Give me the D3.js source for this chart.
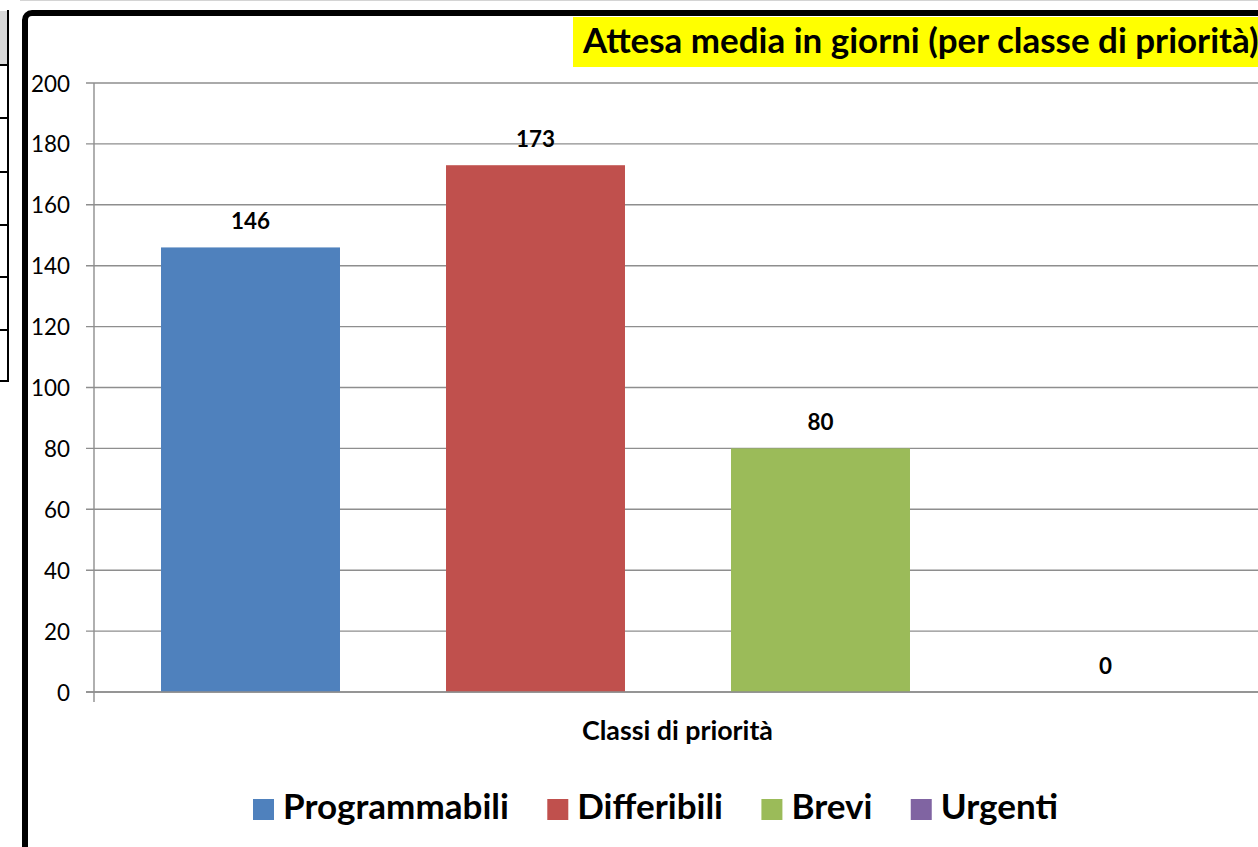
<!DOCTYPE html>
<html><head><meta charset="utf-8">
<script src="https://cdn.jsdelivr.net/npm/d3@7"></script>
<style>html,body{margin:0;padding:0;background:#fff;overflow:hidden}svg{display:block}</style>
</head><body>
<svg id="c" width="1258" height="847"></svg>
<script>
const categories = ["Programmabili", "Differibili", "Brevi", "Urgenti"];
const values = [146, 173, 80, 0];
const colors = ["#4f81bd", "#c0504d", "#9bbb59", "#8064a2"];
const yTicks = [0, 20, 40, 60, 80, 100, 120, 140, 160, 180, 200];
const title = "Attesa media in giorni (per classe di priorità)";
const xTitle = "Classi di priorità";

const FONT = "Lato, 'Open Sans', sans-serif";
const svg = d3.select("#c");

function fit(sel, target) {
  const w = sel.node().getComputedTextLength();
  const s = parseFloat(sel.attr("font-size"));
  sel.attr("font-size", s * target / w);
  return s * target / w;
}

// faint top line
svg.append("line").attr("x1", 20).attr("x2", 1258).attr("y1", 0.5).attr("y2", 0.5)
  .attr("stroke", "#d4d4d4").attr("stroke-width", 1);

// left table fragment
const tbl = svg.append("g");
tbl.append("rect").attr("x", 0).attr("y", 11).attr("width", 7).attr("height", 53).attr("fill", "#d9d9d9");
[65, 118, 172, 225, 277, 330, 381].forEach(yy => {
  tbl.append("line").attr("x1", 0).attr("x2", 9).attr("y1", yy).attr("y2", yy).attr("stroke", "#000").attr("stroke-width", 2);
});
tbl.append("line").attr("x1", 8).attr("x2", 8).attr("y1", 10).attr("y2", 382).attr("stroke", "#000").attr("stroke-width", 2);

// chart frame
svg.append("rect").attr("x", 25).attr("y", 13).attr("width", 1400).attr("height", 1000)
  .attr("rx", 7).attr("fill", "#fff").attr("stroke", "#000").attr("stroke-width", 6);

// scales
const y = d3.scaleLinear().domain([0, 200]).range([692, 83]);
const x = d3.scaleBand().domain(categories).range([108, 1248]).paddingInner(0.372).paddingOuter(0.186);

// gridlines
svg.append("g").selectAll("line").data(yTicks).join("line")
  .attr("x1", 86).attr("x2", 1258)
  .attr("y1", d => y(d)).attr("y2", d => y(d))
  .attr("stroke", "#8e8e8e").attr("stroke-width", 1.4);

// y axis line
svg.append("line").attr("x1", 94).attr("x2", 94).attr("y1", y(200)).attr("y2", 702)
  .attr("stroke", "#8e8e8e").attr("stroke-width", 1.4);

// tick labels
const tl = svg.append("g").selectAll("text").data(yTicks).join("text")
  .attr("x", 70).attr("y", d => y(d) + 8.5)
  .attr("text-anchor", "end").attr("font-family", FONT).attr("font-size", 22)
  .attr("fill", "#000").text(d => d);
{
  const n = tl.filter(d => d === 200);
  const s = fit(n, 39);
  tl.attr("font-size", s);
}

// bars
svg.append("g").selectAll("rect").data(categories).join("rect")
  .attr("x", d => x(d)).attr("width", x.bandwidth())
  .attr("y", (d, i) => y(values[i])).attr("height", (d, i) => y(0) - y(values[i]))
  .attr("fill", (d, i) => colors[i]);

// zero line above bars
svg.append("line").attr("x1", 86).attr("x2", 1258).attr("y1", y(0)).attr("y2", y(0))
  .attr("stroke", "#8e8e8e").attr("stroke-width", 1.6);

// value labels
const vl = svg.append("g").selectAll("text").data(categories).join("text")
  .attr("x", d => x(d) + x.bandwidth() / 2)
  .attr("y", (d, i) => y(values[i]) - 18.5)
  .attr("text-anchor", "middle").attr("font-family", FONT).attr("font-weight", "bold")
  .attr("font-size", 22).attr("fill", "#000").text((d, i) => values[i]);
{
  const n = vl.filter((d, i) => i === 0);
  const s = fit(n, 39);
  vl.attr("font-size", s);
}

// x axis title
const xt = svg.append("text").attr("x", 582).attr("y", 740)
  .attr("font-family", FONT).attr("font-weight", "bold").attr("font-size", 22)
  .attr("fill", "#000").text(xTitle);
fit(xt, 191);

// title
svg.append("rect").attr("x", 573).attr("y", 17).attr("width", 700).attr("height", 50).attr("fill", "#ffff00");
const tt = svg.append("text").attr("x", 583).attr("y", 53)
  .attr("font-family", FONT).attr("font-weight", "bold").attr("font-size", 32)
  .attr("fill", "#000").text(title);
fit(tt, 676);

// legend
const lg = svg.append("g");
const items = categories.map((c, i) => {
  const r = lg.append("rect").attr("y", 799).attr("width", 21).attr("height", 21).attr("fill", colors[i]);
  const t = lg.append("text").attr("y", 819)
    .attr("font-family", FONT).attr("font-weight", "bold").attr("font-size", 30)
    .attr("fill", "#000").text(c);
  return { r, t };
});
const ls = fit(items[0].t, 226);
items.forEach(it => it.t.attr("font-size", ls));
const widths = items.map(it => it.t.node().getComputedTextLength());
const legStart = 253, legEnd = 1058;
const gap = (legEnd - legStart - 30 * items.length - d3.sum(widths)) / (items.length - 1);
let lx = legStart;
items.forEach((it, i) => {
  it.r.attr("x", lx);
  it.t.attr("x", lx + 30);
  lx += 30 + widths[i] + gap;
});
</script>
</body></html>
